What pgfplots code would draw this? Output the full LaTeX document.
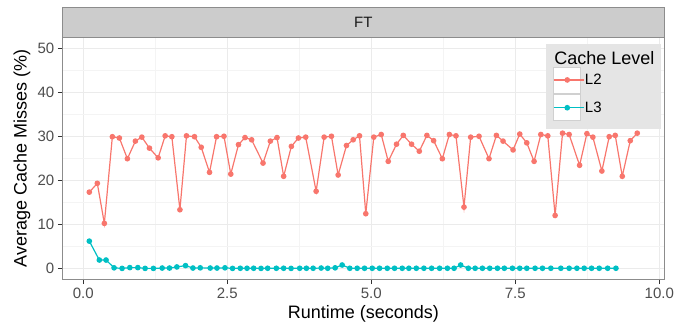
\documentclass[border=0pt]{standalone}
\usepackage{fontspec}
\setmainfont{Liberation Sans}
\usepackage{pgfplots}
\pgfplotsset{compat=1.18}
\definecolor{cLtwo}{HTML}{F8766D}
\definecolor{cLthree}{HTML}{00BFC4}
\definecolor{gridmaj}{HTML}{EBEBEB}
\definecolor{gridmin}{HTML}{F4F4F4}
\definecolor{bordc}{HTML}{8C8C8C}
\definecolor{stripc}{HTML}{CCCCCC}
\definecolor{legbg}{HTML}{E5E5E5}
\definecolor{tickc}{HTML}{333333}
\definecolor{ticklab}{HTML}{4D4D4D}
\definecolor{keyb}{HTML}{D0D0D0}

\pgfplotstableread{
x y
0.104 17.4
0.243 19.4
0.365 10.3
0.504 30.0
0.626 29.7
0.765 25.0
0.904 29.0
1.016 29.9
1.148 27.4
1.299 25.2
1.421 30.2
1.537 30.0
1.677 13.4
1.791 30.2
1.930 30.0
2.047 27.6
2.191 21.9
2.313 30.0
2.442 30.1
2.560 21.5
2.694 28.2
2.807 29.8
2.922 29.3
3.120 24.0
3.247 29.0
3.363 29.8
3.478 21.0
3.612 27.8
3.734 29.7
3.861 29.9
4.042 17.6
4.181 29.9
4.308 30.1
4.424 21.3
4.569 28.0
4.685 29.3
4.795 30.2
4.904 12.5
5.043 29.9
5.172 30.5
5.294 24.4
5.438 28.3
5.555 30.3
5.699 28.3
5.833 26.7
5.965 30.3
6.082 29.1
6.233 25.0
6.355 30.5
6.470 30.2
6.609 14.0
6.725 29.9
6.870 30.1
7.043 25.0
7.172 30.3
7.287 29.0
7.461 27.0
7.577 30.6
7.699 28.6
7.826 24.4
7.943 30.5
8.064 30.2
8.191 12.1
8.320 30.8
8.435 30.5
8.616 23.5
8.743 30.7
8.847 29.9
9.003 22.2
9.130 30.0
9.235 30.3
9.357 21.0
9.496 29.1
9.617 30.8
}\dataLtwo

\pgfplotstableread{
x y
0.104 6.27
0.278 1.97
0.395 1.97
0.534 0.20
0.673 0.07
0.807 0.25
0.946 0.25
1.073 0.07
1.217 0.07
1.369 0.15
1.496 0.15
1.624 0.40
1.774 0.70
1.903 0.15
2.030 0.20
2.203 0.15
2.320 0.15
2.459 0.20
2.591 0.07
2.725 0.10
2.842 0.10
2.957 0.10
3.085 0.07
3.200 0.10
3.351 0.10
3.478 0.10
3.607 0.07
3.757 0.10
3.873 0.10
3.990 0.10
4.129 0.15
4.243 0.10
4.372 0.20
4.494 0.84
4.626 0.10
4.755 0.10
4.882 0.10
5.016 0.10
5.143 0.10
5.277 0.10
5.403 0.10
5.537 0.10
5.652 0.10
5.781 0.10
5.913 0.10
6.047 0.10
6.186 0.10
6.321 0.10
6.437 0.10
6.551 0.84
6.685 0.10
6.803 0.10
6.929 0.10
7.056 0.10
7.190 0.10
7.310 0.10
7.450 0.10
7.577 0.10
7.699 0.10
7.843 0.10
7.972 0.10
8.117 0.10
8.290 0.10
8.435 0.10
8.569 0.10
8.696 0.10
8.824 0.10
8.957 0.10
9.103 0.10
9.247 0.10
}\dataLthree

\begin{document}
\begin{tikzpicture}[x=1bp,y=1bp]
\path[use as bounding box] (0,0) rectangle (695,325);
\begin{axis}[name=ax, at={(62.3bp,45.3bp)}, anchor=south west,
  width=602bp, height=242bp, scale only axis,
  xmin=-0.365, xmax=10.087, ymin=-2.5, ymax=52.5,
  xtick={0,2.5,5,7.5,10}, xticklabels={0.0,2.5,5.0,7.5,10.0},
  ytick={0,10,20,30,40,50},
  minor x tick num=1, minor y tick num=1,
  xmajorgrids=true, ymajorgrids=true, xminorgrids=true, yminorgrids=true,
  major grid style={gridmaj, line width=1.1bp},
  minor grid style={gridmin, line width=0.6bp},
  tick align=outside, tick pos=left,
  major tick length=4.5bp, minor tick length=0pt,
  major tick style={tickc, line width=0.8bp},
  minor tick style={draw=none},
  axis line style={bordc, line width=0.8bp},
  ticklabel style={font=\fontsize{15bp}{18bp}\selectfont, text=ticklab},
  /pgf/number format/assume math mode=true,
  xlabel={Runtime (seconds)}, ylabel={Average Cache Misses (\%)},
  every axis x label/.style={at={(axis description cs:0.5,-0.1405)}, anchor=center, font=\fontsize{18bp}{21bp}\selectfont},
  every axis y label/.style={at={(axis description cs:-0.0670,0.5)}, rotate=90, anchor=center, font=\fontsize{18bp}{21bp}\selectfont},
  legend style={at={(1,1)}, anchor=north east, xshift=-3bp, yshift=-5.6bp,
    fill=legbg, draw=none, inner xsep=6.7bp, inner ysep=7.5bp,
    row sep=1bp, nodes={inner sep=0pt},
    font=\fontsize{15bp}{18bp}\selectfont},
  legend cell align=left,
]
\addlegendimage{empty legend}
\addlegendentry{\fontsize{18bp}{21bp}\selectfont\hspace*{-30.6bp}Cache Level\rule[-5bp]{0pt}{0pt}}
\addplot[cLtwo, line width=1.2bp, mark=*, mark size=2.2bp, mark options={solid, draw=none, fill=cLtwo},
  legend image code/.code={
    \draw[keyb, fill=white, line width=0.8bp] (0bp,-13bp) rectangle (27bp,13bp);
    \draw[cLtwo, line width=1.2bp] (2.5bp,0bp) -- (24.5bp,0bp);
    \fill[cLtwo] (13.5bp,0bp) circle (2.2bp);
    \path (0bp,0bp) -- (30.6bp,0bp);
  }] table[x=x, y=y] {\dataLtwo};
\addlegendentry{L2}
\addplot[cLthree, line width=1.2bp, mark=*, mark size=2.2bp, mark options={solid, draw=none, fill=cLthree},
  legend image code/.code={
    \draw[keyb, fill=white, line width=0.8bp] (0bp,-13bp) rectangle (27bp,13bp);
    \draw[cLthree, line width=1.2bp] (2.5bp,0bp) -- (24.5bp,0bp);
    \fill[cLthree] (13.5bp,0bp) circle (2.2bp);
    \path (0bp,0bp) -- (30.6bp,0bp);
  }] table[x=x, y=y] {\dataLthree};
\addlegendentry{L3}
\end{axis}
\draw[bordc, fill=stripc, line width=0.8bp] (ax.north west) rectangle ([yshift=30bp]ax.north east);
\node[font=\fontsize{15bp}{18bp}\selectfont, text=black!90] at ([yshift=15bp]ax.north) {FT};
\end{tikzpicture}
\end{document}
